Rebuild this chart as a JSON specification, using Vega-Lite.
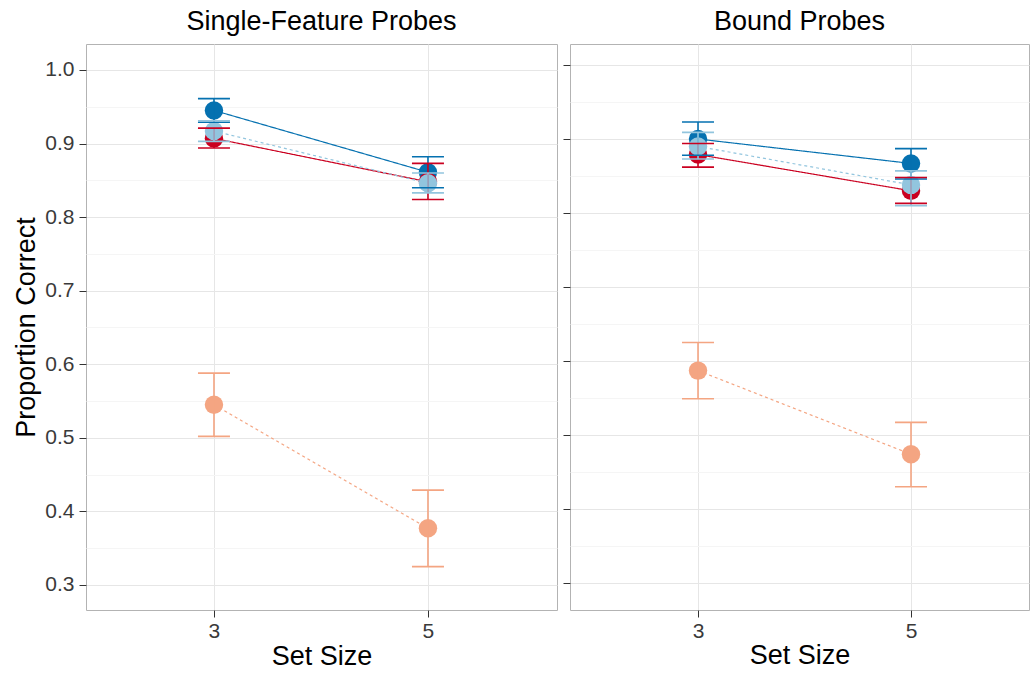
{
  "$schema": "https://vega.github.io/schema/vega-lite/v6.json",
  "background": "white",
  "padding": {"left": 12, "top": 7, "right": 0, "bottom": 0},
  "autosize": {"type": "pad"},
  "datasets": {
    "d": [
      {"panel": "Single", "series": "Letter Lures, Distinct", "size": 3, "mean": 0.945, "lo": 0.929, "hi": 0.961},
      {"panel": "Single", "series": "Letter Lures, Distinct", "size": 5, "mean": 0.861, "lo": 0.840, "hi": 0.882},
      {"panel": "Single", "series": "Color Lures, Distinct", "size": 3, "mean": 0.907, "lo": 0.894, "hi": 0.921},
      {"panel": "Single", "series": "Color Lures, Distinct", "size": 5, "mean": 0.848, "lo": 0.824, "hi": 0.873},
      {"panel": "Single", "series": "Color Lures, Similar", "size": 3, "mean": 0.545, "lo": 0.502, "hi": 0.588},
      {"panel": "Single", "series": "Color Lures, Similar", "size": 5, "mean": 0.377, "lo": 0.325, "hi": 0.429},
      {"panel": "Single", "series": "Letter Lures, Similar", "size": 3, "mean": 0.917, "lo": 0.903, "hi": 0.931},
      {"panel": "Single", "series": "Letter Lures, Similar", "size": 5, "mean": 0.846, "lo": 0.833, "hi": 0.860},
      {"panel": "Bound", "series": "Letter Lures, Distinct", "size": 3, "mean": 0.900, "lo": 0.878, "hi": 0.923},
      {"panel": "Bound", "series": "Letter Lures, Distinct", "size": 5, "mean": 0.867, "lo": 0.846, "hi": 0.887},
      {"panel": "Bound", "series": "Color Lures, Distinct", "size": 3, "mean": 0.879, "lo": 0.862, "hi": 0.894},
      {"panel": "Bound", "series": "Color Lures, Distinct", "size": 5, "mean": 0.830, "lo": 0.813, "hi": 0.848},
      {"panel": "Bound", "series": "Color Lures, Similar", "size": 3, "mean": 0.587, "lo": 0.549, "hi": 0.625},
      {"panel": "Bound", "series": "Color Lures, Similar", "size": 5, "mean": 0.474, "lo": 0.430, "hi": 0.517},
      {"panel": "Bound", "series": "Letter Lures, Similar", "size": 3, "mean": 0.890, "lo": 0.873, "hi": 0.909},
      {"panel": "Bound", "series": "Letter Lures, Similar", "size": 5, "mean": 0.838, "lo": 0.810, "hi": 0.857}
    ]
  },
  "config": {
    "font": "Liberation Sans",
    "view": {"stroke": "#b3b3b3", "strokeWidth": 1},
    "axis": {
      "labelFont": "Liberation Sans", "labelFontSize": 21, "labelColor": "#3a3a3a",
      "titleFont": "Liberation Sans", "titleFontSize": 27, "titleFontWeight": "normal", "titleColor": "#000000",
      "tickColor": "#333333", "tickSize": 7, "tickWidth": 1, "domain": false
    },
    "legend": {
      "labelFont": "Liberation Sans", "labelFontSize": 21, "labelColor": "#000000",
      "labelOffset": 15, "rowPadding": -4, "padding": 0, "title": null
    },
    "title": {"font": "Liberation Sans", "fontSize": 27, "fontWeight": "normal", "color": "#000000", "anchor": "middle", "frame": "group"}
  },
  "align": "none",
  "spacing": 4,
  "hconcat": [
    {
      "width": 471,
      "height": 566,
      "title": {"text": "Single-Feature Probes", "offset": 8},
      "data": {"name": "d"},
      "transform": [{"filter": "datum.panel === 'Single'"}],
      "encoding": {
        "x": {
          "field": "size", "type": "quantitative",
          "scale": {"domain": [1.804, 6.206], "nice": false, "zero": false},
          "axis": {"values": [3, 5], "title": "Set Size", "grid": true, "gridColor": "#e6e6e6", "labelPadding": 3, "titlePadding": 2}
        }
      },
      "layer": [
        {
          "mark": {"type": "line", "strokeWidth": 1.2},
          "encoding": {
            "y": {
              "field": "mean", "type": "quantitative",
              "scale": {"domain": [0.266, 1.0353], "nice": false, "zero": false},
              "axis": {
                "values": [0.3, 0.35, 0.4, 0.45, 0.5, 0.55, 0.6, 0.65, 0.7, 0.75, 0.8, 0.85, 0.9, 0.95, 1.0],
                "title": "Proportion Correct", "grid": true,
                "gridColor": {"condition": {"test": "round(datum.value*100) % 10 != 0", "value": "#f5f5f5"}, "value": "#e6e6e6"},
                "tickOpacity": {"condition": {"test": "round(datum.value*100) % 10 != 0", "value": 0}, "value": 1},
                "labelExpr": "round(datum.value*100) % 10 == 0 ? format(datum.value, '.1f') : ''",
                "labelPadding": 5, "titlePadding": 4
              }
            },
            "stroke": {
              "field": "series", "type": "nominal",
              "scale": {"domain": ["Letter Lures, Distinct", "Letter Lures, Similar", "Color Lures, Distinct", "Color Lures, Similar"], "range": ["#0571b0", "#92c5de", "#ca0020", "#f4a582"]},
              "legend": null
            },
            "strokeDash": {
              "field": "series", "type": "nominal",
              "scale": {"domain": ["Letter Lures, Distinct", "Letter Lures, Similar", "Color Lures, Distinct", "Color Lures, Similar"], "range": [[1, 0], [3, 3], [1, 0], [3, 3]]},
              "legend": null
            }
          }
        },
        {
          "mark": {"type": "point", "filled": true, "size": 340, "opacity": 1},
          "encoding": {
            "y": {"field": "mean", "type": "quantitative"},
            "color": {
              "field": "series", "type": "nominal",
              "scale": {"domain": ["Letter Lures, Distinct", "Letter Lures, Similar", "Color Lures, Distinct", "Color Lures, Similar"], "range": ["#0571b0", "#92c5de", "#ca0020", "#f4a582"]},
              "legend": null
            }
          }
        },
        {
          "mark": {"type": "rule", "strokeWidth": 1.6},
          "encoding": {"y": {"field": "lo", "type": "quantitative"}, "y2": {"field": "hi"}, "stroke": {"field": "series", "type": "nominal"}}
        },
        {
          "mark": {"type": "rule", "strokeWidth": 1.6, "xOffset": -16, "x2Offset": 16},
          "encoding": {"x2": {"field": "size"}, "y": {"field": "lo", "type": "quantitative"}, "stroke": {"field": "series", "type": "nominal"}}
        },
        {
          "mark": {"type": "rule", "strokeWidth": 1.6, "xOffset": -16, "x2Offset": 16},
          "encoding": {"x2": {"field": "size"}, "y": {"field": "hi", "type": "quantitative"}, "stroke": {"field": "series", "type": "nominal"}}
        }
      ]
    },
    {
      "width": 459,
      "height": 566,
      "title": {"text": "Bound Probes", "offset": 8},
      "data": {"name": "d"},
      "transform": [{"filter": "datum.panel === 'Bound'"}],
      "encoding": {
        "x": {
          "field": "size", "type": "quantitative",
          "scale": {"domain": [1.798, 6.108], "nice": false, "zero": false},
          "axis": {"values": [3, 5], "title": "Set Size", "grid": true, "gridColor": "#e6e6e6", "labelPadding": 3, "titlePadding": 1}
        }
      },
      "layer": [
        {
          "mark": {"type": "line", "strokeWidth": 1.2},
          "encoding": {
            "y": {
              "field": "mean", "type": "quantitative",
              "scale": {"domain": [0.2635, 1.0284], "nice": false, "zero": false},
              "axis": {
                "values": [0.3, 0.35, 0.4, 0.45, 0.5, 0.55, 0.6, 0.65, 0.7, 0.75, 0.8, 0.85, 0.9, 0.95, 1.0],
                "title": null, "labels": false, "grid": true,
                "gridColor": {"condition": {"test": "round(datum.value*100) % 10 != 0", "value": "#f5f5f5"}, "value": "#e6e6e6"},
                "tickOpacity": {"condition": {"test": "round(datum.value*100) % 10 != 0", "value": 0}, "value": 1}
              }
            },
            "stroke": {
              "field": "series", "type": "nominal",
              "scale": {"domain": ["Letter Lures, Distinct", "Letter Lures, Similar", "Color Lures, Distinct", "Color Lures, Similar"], "range": ["#0571b0", "#92c5de", "#ca0020", "#f4a582"]},
              "legend": null
            },
            "strokeDash": {
              "field": "series", "type": "nominal",
              "scale": {"domain": ["Letter Lures, Distinct", "Letter Lures, Similar", "Color Lures, Distinct", "Color Lures, Similar"], "range": [[1, 0], [3, 3], [1, 0], [3, 3]]},
              "legend": null
            }
          }
        },
        {
          "mark": {"type": "point", "filled": true, "size": 340, "opacity": 1},
          "encoding": {
            "y": {"field": "mean", "type": "quantitative"},
            "color": {
              "field": "series", "type": "nominal",
              "scale": {"domain": ["Letter Lures, Distinct", "Letter Lures, Similar", "Color Lures, Distinct", "Color Lures, Similar"], "range": ["#0571b0", "#92c5de", "#ca0020", "#f4a582"]},
              "legend": {
                "orient": "none", "legendX": 15, "legendY": 403, "title": null,
                "symbolType": "M-0.85,-0.045 L0.85,-0.045 L0.85,0.045 L-0.85,0.045 Z M0.56,0 A0.56,0.56 0 1,1 -0.56,0 A0.56,0.56 0 1,1 0.56,0 Z",
                "symbolSize": 1296, "symbolOpacity": 1, "symbolStrokeWidth": 0
              }
            }
          }
        },
        {
          "mark": {"type": "rule", "strokeWidth": 1.6},
          "encoding": {"y": {"field": "lo", "type": "quantitative"}, "y2": {"field": "hi"}, "stroke": {"field": "series", "type": "nominal"}}
        },
        {
          "mark": {"type": "rule", "strokeWidth": 1.6, "xOffset": -16, "x2Offset": 16},
          "encoding": {"x2": {"field": "size"}, "y": {"field": "lo", "type": "quantitative"}, "stroke": {"field": "series", "type": "nominal"}}
        },
        {
          "mark": {"type": "rule", "strokeWidth": 1.6, "xOffset": -16, "x2Offset": 16},
          "encoding": {"x2": {"field": "size"}, "y": {"field": "hi", "type": "quantitative"}, "stroke": {"field": "series", "type": "nominal"}}
        }
      ]
    }
  ],
  "resolve": {
    "scale": {"color": "independent", "stroke": "independent", "strokeDash": "independent", "x": "independent", "y": "independent"},
    "legend": {"color": "independent", "stroke": "independent", "strokeDash": "independent"}
  }
}
